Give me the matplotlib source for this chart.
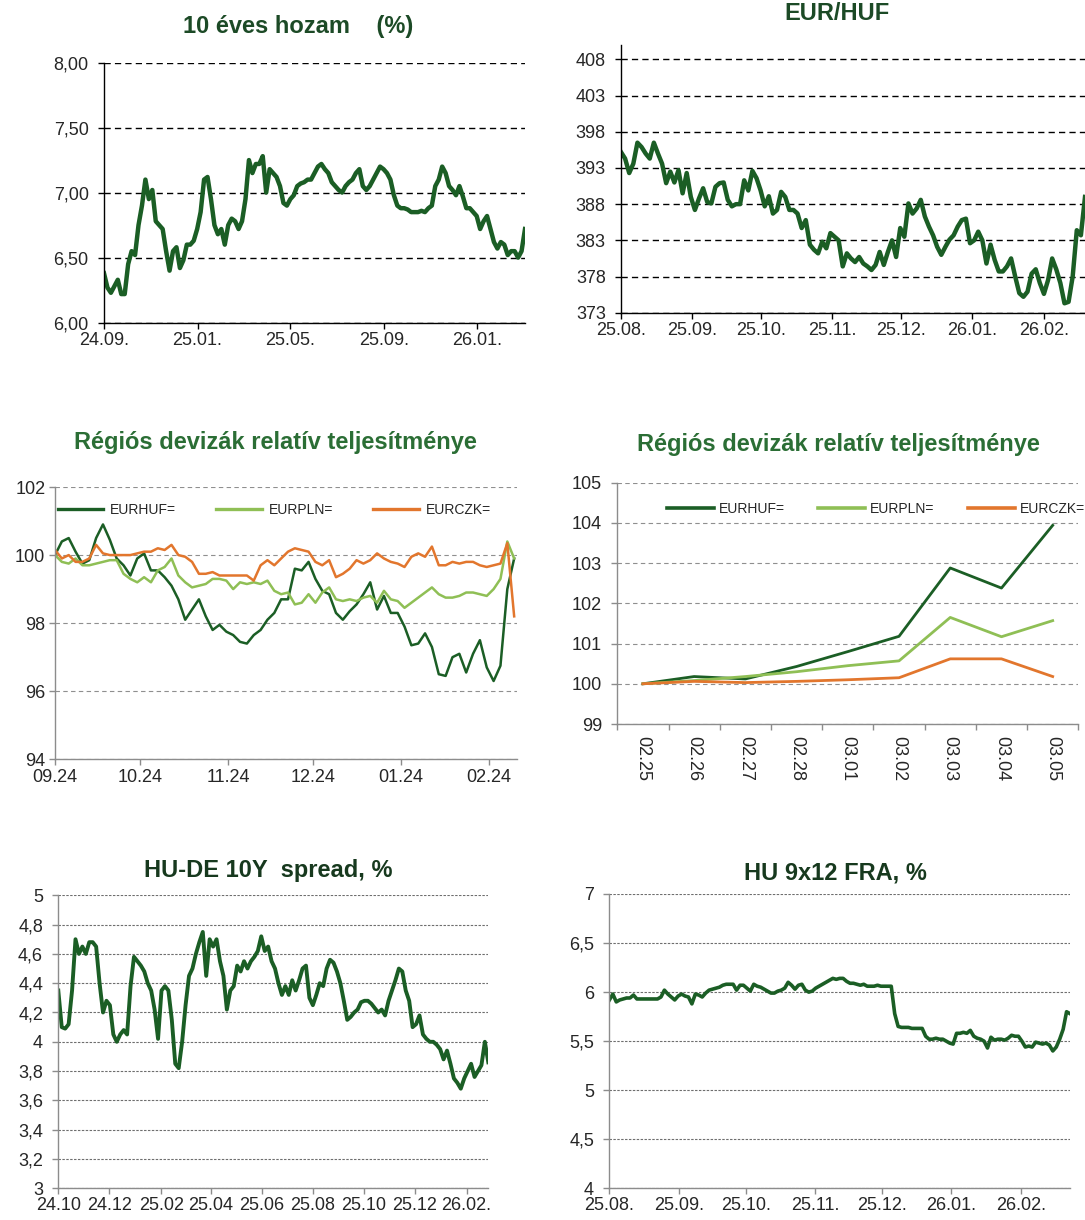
import numpy as np
import pandas as pd
import matplotlib
matplotlib.use("Agg")
import matplotlib.pyplot as plt
from matplotlib.ticker import FuncFormatter

plt.rcParams['font.family'] = ['Liberation Sans', 'DejaVu Sans']

# --- 10 eves hozam, 2024.09.01 - 2026.03.04
yield_10y = [
    6.38, 6.27, 6.23, 6.28, 6.33, 6.22, 6.22, 6.45, 6.55, 6.52,
    6.75, 6.90, 7.10, 6.95, 7.02, 6.78, 6.75, 6.72, 6.55, 6.40,
    6.55, 6.58, 6.42, 6.48, 6.60, 6.60, 6.63, 6.72, 6.85, 7.10,
    7.12, 6.95, 6.75, 6.68, 6.72, 6.60, 6.75, 6.80, 6.78, 6.72,
    6.78, 6.95, 7.25, 7.15, 7.22, 7.22, 7.28, 7.00, 7.18, 7.15,
    7.12, 7.05, 6.92, 6.90, 6.95, 6.98, 7.05, 7.07, 7.08, 7.10,
    7.10, 7.15, 7.20, 7.22, 7.18, 7.15, 7.08, 7.05, 7.02, 7.00,
    7.05, 7.08, 7.10, 7.15, 7.18, 7.05, 7.02, 7.05, 7.10, 7.15,
    7.20, 7.18, 7.15, 7.10, 6.98, 6.90, 6.88, 6.88, 6.87, 6.85,
    6.85, 6.85, 6.86, 6.85, 6.88, 6.90, 7.05, 7.10, 7.20, 7.15,
    7.05, 7.02, 6.98, 7.05, 6.97, 6.88, 6.88, 6.85, 6.82, 6.72,
    6.78, 6.82, 6.72, 6.62, 6.57, 6.62, 6.60, 6.52, 6.55, 6.55,
    6.50, 6.55, 6.72]
yield_ticks = ['2024-09-01', '2025-01-01', '2025-05-01', '2025-09-01', '2026-01-01']
yield_labels = ['24.09.', '25.01.', '25.05.', '25.09.', '26.01.']

# --- EUR/HUF, 2025.08.01 - 2026.02.19 (chart is cut at the right edge)
eurhuf = [
    395.2, 394.3, 392.3, 393.6, 396.5, 395.9, 395.0, 394.3, 396.5, 395.0,
    393.6, 390.9, 392.5, 391.0, 392.7, 389.5, 392.3, 389.0, 387.2, 388.8,
    390.2, 388.3, 388.1, 390.4, 390.9, 391.0, 388.6, 387.7, 388.0, 388.0,
    391.3, 389.9, 392.6, 391.6, 389.9, 387.7, 389.1, 386.7, 387.2, 389.7,
    389.0, 387.2, 387.2, 386.7, 384.7, 385.8, 382.4, 381.7, 381.2, 382.8,
    381.9, 384.0, 383.5, 383.0, 379.4, 381.2, 380.5, 380.0, 380.7, 379.8,
    379.4, 378.9, 379.6, 381.4, 379.6, 381.4, 383.0, 380.7, 384.7, 383.5,
    388.1, 386.7, 387.4, 388.6, 386.3, 384.9, 383.7, 382.1, 381.0, 382.1,
    383.1, 383.7, 384.9, 385.8, 386.0, 382.6, 383.0, 384.2, 383.0, 379.8,
    382.4, 380.3, 378.7, 378.7, 379.4, 380.5, 378.0, 375.7, 375.2, 375.9,
    378.4, 379.0, 377.1, 375.6, 377.5, 380.5, 379.0, 377.1, 374.3, 374.5,
    378.0, 384.4, 383.7, 389.0]
month_ticks = ['2025-08-01', '2025-09-01', '2025-10-01', '2025-11-01',
               '2025-12-01', '2026-01-01', '2026-02-01']
month_labels = ['25.08.', '25.09.', '25.10.', '25.11.', '25.12.', '26.01.', '26.02.']

# --- Regios devizak, hosszabb tav (2025.09.24 - 2026.03.05)
huf_rel = [
    100.0, 100.4, 100.5, 100.1, 99.75, 99.85, 100.5, 100.9, 100.45, 99.9,
    99.7, 99.4, 99.9, 100.05, 99.55, 99.55, 99.35, 99.1, 98.7, 98.1,
    98.4, 98.7, 98.2, 97.8, 97.95, 97.75, 97.65, 97.45, 97.4, 97.65,
    97.8, 98.1, 98.3, 98.7, 98.7, 99.6, 99.55, 99.8, 99.3, 98.95,
    98.85, 98.3, 98.1, 98.35, 98.55, 98.85, 99.2, 98.4, 98.8, 98.3,
    98.3, 97.9, 97.35, 97.4, 97.7, 97.3, 96.5, 96.45, 97.0, 97.1,
    96.55, 97.1, 97.5, 96.7, 96.3, 96.75, 99.0, 99.9]
pln_rel = [
    100.0, 99.8, 99.75, 99.9, 99.7, 99.7, 99.75, 99.8, 99.85, 99.85,
    99.45, 99.3, 99.2, 99.35, 99.2, 99.55, 99.65, 99.9, 99.4, 99.2,
    99.05, 99.1, 99.15, 99.3, 99.3, 99.25, 99.0, 99.2, 99.15, 99.2,
    99.15, 99.25, 98.95, 98.85, 98.9, 98.55, 98.6, 98.85, 98.6, 98.9,
    99.05, 98.7, 98.65, 98.7, 98.65, 98.75, 98.8, 98.6, 98.95, 98.7,
    98.65, 98.45, 98.6, 98.75, 98.9, 99.05, 98.85, 98.75, 98.75, 98.8,
    98.9, 98.9, 98.85, 98.8, 99.0, 99.3, 100.4, 99.9]
czk_rel = [
    100.15, 99.9, 100.0, 99.8, 99.8, 99.9, 100.3, 100.05, 100.0, 100.0,
    100.0, 100.0, 100.05, 100.1, 100.1, 100.2, 100.15, 100.3, 100.0, 99.95,
    99.8, 99.45, 99.45, 99.5, 99.4, 99.4, 99.4, 99.4, 99.4, 99.25,
    99.7, 99.85, 99.7, 99.9, 100.1, 100.2, 100.15, 100.1, 99.8, 99.7,
    99.85, 99.35, 99.45, 99.6, 99.85, 99.75, 99.85, 100.05, 99.9, 99.8,
    99.75, 99.65, 99.95, 100.05, 99.95, 100.25, 99.7, 99.7, 99.8, 99.75,
    99.8, 99.8, 99.7, 99.65, 99.7, 99.75, 100.35, 98.2]
rel_ticks = ['2025-09-24', '2025-10-24', '2025-11-24', '2025-12-24', '2026-01-24', '2026-02-24']
rel_labels = ['09.24', '10.24', '11.24', '12.24', '01.24', '02.24']

# --- Regios devizak, utolso napok
days = ['02.25', '02.26', '02.27', '02.28', '03.01', '03.02', '03.03', '03.04', '03.05']
huf_short = [100.0, 100.18, 100.12, 100.43, 100.8, 101.18, 102.88, 102.38, 103.94]
pln_short = [100.0, 100.08, 100.18, 100.3, 100.45, 100.57, 101.65, 101.17, 101.57]
czk_short = [100.0, 100.06, 100.03, 100.06, 100.1, 100.15, 100.62, 100.62, 100.18]
legend_names = ['EURHUF=', 'EURPLN=', 'EURCZK=']

# --- HU-DE 10Y spread, 2024.10.01 - 2026.02.27
spread = [
    4.35, 4.10, 4.09, 4.12, 4.35, 4.70, 4.60, 4.65, 4.60, 4.68,
    4.68, 4.65, 4.40, 4.20, 4.28, 4.25, 4.05, 4.00, 4.05, 4.08,
    4.05, 4.38, 4.58, 4.55, 4.52, 4.48, 4.40, 4.35, 4.22, 4.02,
    4.35, 4.38, 4.35, 4.15, 3.85, 3.82, 4.00, 4.25, 4.45, 4.50,
    4.60, 4.68, 4.75, 4.45, 4.70, 4.65, 4.70, 4.55, 4.45, 4.22,
    4.35, 4.38, 4.52, 4.48, 4.55, 4.50, 4.55, 4.58, 4.62, 4.72,
    4.62, 4.65, 4.55, 4.50, 4.40, 4.32, 4.38, 4.32, 4.42, 4.35,
    4.42, 4.50, 4.52, 4.30, 4.25, 4.32, 4.40, 4.38, 4.50, 4.56,
    4.54, 4.48, 4.40, 4.28, 4.15, 4.17, 4.20, 4.22, 4.27, 4.28,
    4.28, 4.26, 4.23, 4.20, 4.22, 4.18, 4.28, 4.35, 4.42, 4.50,
    4.48, 4.35, 4.28, 4.10, 4.12, 4.18, 4.05, 4.02, 4.00, 4.00,
    3.98, 3.95, 3.88, 3.94, 3.85, 3.75, 3.72, 3.68, 3.75, 3.80,
    3.85, 3.76, 3.80, 3.84, 4.00, 3.86]
spread_ticks = ['2024-10-01', '2024-12-01', '2025-02-01', '2025-04-01', '2025-06-01',
                '2025-08-01', '2025-10-01', '2025-12-01', '2026-02-01']
spread_labels = ['24.10', '24.12', '25.02', '25.04', '25.06', '25.08', '25.10', '25.12', '26.02.']

# --- HU 9x12 FRA, 2025.08.01 - 2026.02.23
fra = [
    5.92, 5.98, 5.90, 5.92, 5.93, 5.94, 5.94, 5.97, 5.93, 5.93,
    5.93, 5.93, 5.93, 5.93, 5.93, 5.95, 6.02, 5.98, 5.95, 5.92,
    5.96, 5.98, 5.96, 5.95, 5.88, 5.98, 5.97, 5.95, 5.99, 6.02,
    6.03, 6.04, 6.05, 6.07, 6.08, 6.08, 6.08, 6.02, 6.07, 6.07,
    6.04, 6.01, 6.08, 6.06, 6.05, 6.03, 6.01, 5.99, 5.99, 6.01,
    6.02, 6.04, 6.10, 6.07, 6.03, 6.07, 6.08, 6.02, 6.00, 6.01,
    6.04, 6.06, 6.08, 6.10, 6.12, 6.14, 6.13, 6.14, 6.14, 6.11,
    6.09, 6.09, 6.08, 6.07, 6.08, 6.06, 6.06, 6.06, 6.07, 6.06,
    6.06, 6.06, 6.06, 5.78, 5.65, 5.64, 5.64, 5.64, 5.63, 5.63,
    5.63, 5.63, 5.55, 5.52, 5.52, 5.53, 5.52, 5.52, 5.50, 5.48,
    5.47, 5.58, 5.58, 5.59, 5.58, 5.61, 5.55, 5.53, 5.52, 5.50,
    5.43, 5.54, 5.51, 5.52, 5.52, 5.51, 5.53, 5.56, 5.55, 5.55,
    5.50, 5.44, 5.45, 5.44, 5.49, 5.48, 5.47, 5.48, 5.46, 5.40,
    5.44, 5.52, 5.62, 5.80, 5.78]

DARK = '#1b5e25'
LIGHT = '#8fbf55'
ORANGE = '#e2762d'
W, H = 1085, 1220

fig = plt.figure(figsize=(W / 100, H / 100), dpi=100)


def panel(l, t, r, b):
    return fig.add_axes([l / W, 1 - b / H, (r - l) / W, (b - t) / H])


def title(text, x, y, color):
    fig.text(x / W, 1 - y / H, text, ha='center', va='center',
             fontsize=17, fontweight='bold', color=color)


def setup(ax, axis_col, grid_col, dashes, grid_lw, ypad=6.5):
    ax.spines[['top', 'right']].set_visible(False)
    ax.spines[['left', 'bottom']].set_color(axis_col)
    ax.spines[['left', 'bottom']].set_linewidth(1.0)
    ax.tick_params(colors=axis_col, labelcolor='#262626', labelsize=13, width=1.0, length=4.5)
    ax.tick_params(axis='y', pad=ypad)
    ax.tick_params(axis='x', pad=2.5)
    ax.yaxis.grid(True, color=grid_col, linestyle=(0, dashes), linewidth=grid_lw)
    ax.set_axisbelow(True)


def dates(start, end, n):
    return pd.date_range(start, end, periods=n)


def comma(v, pos):
    return ('%g' % v).replace('.', ',')


# 1. 10 eves hozam
ax1 = panel(104, 62.5, 525, 322.7)
setup(ax1, 'black', 'black', (4.5, 3), 1.0)
ax1.plot(dates('2024-09-01', '2026-03-04', len(yield_10y)), yield_10y, color=DARK, lw=3.2)
ax1.set_ylim(6, 8)
ax1.set_xlim(pd.Timestamp('2024-09-01'), pd.Timestamp('2026-03-04'))
ax1.set_yticks(np.arange(6, 8.01, 0.5))
ax1.yaxis.set_major_formatter(FuncFormatter(lambda v, p: ('%.2f' % v).replace('.', ',')))
ax1.set_xticks(pd.to_datetime(yield_ticks))
ax1.set_xticklabels(yield_labels)
title('10 éves hozam    (%)', 298, 26, '#1c4a26')

# 2. EUR/HUF
ax2 = panel(621, 45, 1085, 312.7)
setup(ax2, 'black', 'black', (4.5, 3), 1.0)
ax2.plot(dates('2025-08-01', '2026-02-19', len(eurhuf)), eurhuf, color=DARK, lw=3.2)
ax2.set_ylim(373, 410)
ax2.set_xlim(pd.Timestamp('2025-08-01'), pd.Timestamp('2026-02-19'))
ax2.set_yticks(np.arange(373, 409, 5))
ax2.set_xticks(pd.to_datetime(month_ticks))
ax2.set_xticklabels(month_labels)
title('EUR/HUF', 837, 14, '#1c4a26')

# 3. Regios devizak - hosszu
ax3 = panel(55, 487, 517, 759.3)
setup(ax3, '#8c8c8c', '#8f8f8f', (4, 3), 0.8, ypad=2.5)
rel_x = dates('2025-09-24', '2026-03-05', len(huf_rel))
for vals, col, name in zip([huf_rel, pln_rel, czk_rel], [DARK, LIGHT, ORANGE], legend_names):
    ax3.plot(rel_x, vals, color=col, lw=1.8, label=name)
ax3.set_ylim(94, 102)
ax3.set_xlim(pd.Timestamp('2025-09-24'), pd.Timestamp('2026-03-06'))
ax3.set_yticks(np.arange(94, 102.1, 2))
ax3.set_xticks(pd.to_datetime(rel_ticks))
ax3.set_xticklabels(rel_labels)
leg = ax3.legend(loc='center left', bbox_to_anchor=(0.006, 0.9155), ncol=3, frameon=False,
                 fontsize=10, handlelength=3.27, handletextpad=0.5, columnspacing=2.9,
                 borderpad=0, borderaxespad=0, labelcolor='#262626')
for h in leg.legend_handles:
    h.set_linewidth(2.4)
title('Régiós devizák relatív teljesítménye', 275, 443, '#2b6e35')

# 4. Regios devizak - utolso napok
ax4 = panel(617.3, 482.7, 1078.3, 724)
setup(ax4, '#8c8c8c', '#8f8f8f', (4, 3), 0.8)
xs = np.arange(len(days))
for vals, col, name in zip([huf_short, pln_short, czk_short], [DARK, LIGHT, ORANGE], legend_names):
    ax4.plot(xs, vals, color=col, lw=2.0, label=name)
ax4.set_ylim(99, 105)
ax4.set_xlim(-0.5, len(days) - 0.5)
ax4.set_yticks(np.arange(99, 105.1, 1))
ax4.set_xticks(np.arange(-0.5, len(days)))
ax4.set_xticklabels([])
ax4.set_xticks(xs, minor=True)
ax4.set_xticklabels(days, minor=True, rotation=-90)
ax4.tick_params(axis='x', which='minor', length=0, pad=9, labelsize=13, labelcolor='#262626')
leg = ax4.legend(loc='center left', bbox_to_anchor=(0.108, 0.89), ncol=3, frameon=False,
                 fontsize=10, handlelength=3.36, handletextpad=0.38, columnspacing=2.4,
                 borderpad=0, borderaxespad=0, labelcolor='#262626')
for h in leg.legend_handles:
    h.set_linewidth(2.6)
title('Régiós devizák relatív teljesítménye', 838, 445, '#2b6e35')

# 5. HU-DE 10Y spread
ax5 = panel(58.3, 895.3, 488.3, 1188.3)
setup(ax5, '#8c8c8c', '#6e6e6e', (2.2, 1.3), 0.8)
ax5.plot(dates('2024-10-01', '2026-02-27', len(spread)), spread, color=DARK, lw=2.8)
ax5.set_ylim(3, 5)
ax5.set_xlim(pd.Timestamp('2024-10-01'), pd.Timestamp('2026-02-27'))
ax5.set_yticks(np.arange(3, 5.01, 0.2))
ax5.yaxis.set_major_formatter(FuncFormatter(comma))
ax5.set_xticks(pd.to_datetime(spread_ticks))
ax5.set_xticklabels(spread_labels)
ax5.tick_params(axis='x', pad=1.5)
title('HU-DE 10Y  spread, %', 268, 870, '#17391e')

# 6. HU 9x12 FRA
ax6 = panel(609.4, 894, 1070, 1188.3)
setup(ax6, '#8c8c8c', '#6e6e6e', (2.2, 1.3), 0.8)
ax6.plot(dates('2025-08-01', '2026-02-23', len(fra)), fra, color=DARK, lw=2.6)
ax6.set_ylim(4, 7)
ax6.set_xlim(pd.Timestamp('2025-08-01'), pd.Timestamp('2026-02-23'))
ax6.set_yticks(np.arange(4, 7.01, 0.5))
ax6.yaxis.set_major_formatter(FuncFormatter(comma))
ax6.set_xticks(pd.to_datetime(month_ticks))
ax6.set_xticklabels(month_labels)
ax6.tick_params(axis='x', pad=1.5)
title('HU 9x12 FRA, %', 835, 873, '#17391e')

fig.savefig('out.png', dpi=100, facecolor='white')
